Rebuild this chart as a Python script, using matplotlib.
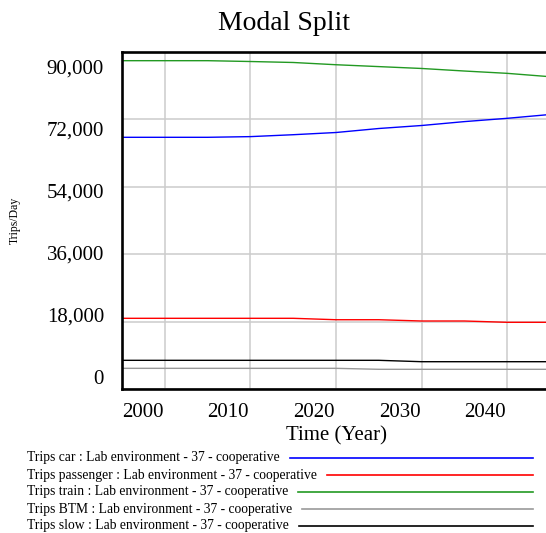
import numpy as np
import matplotlib.pyplot as plt
from matplotlib.lines import Line2D

plt.rcParams['font.family'] = ['Liberation Serif', 'DejaVu Serif']

# model output, trips per day
years = [2000, 2005, 2010, 2015, 2020, 2025, 2030, 2035, 2040, 2045, 2050]
trips_car = [67220, 67220, 67220, 67400, 67910, 68500, 69570, 70370, 71410, 72290, 73310]
trips_passenger = [18880, 18880, 18880, 18880, 18880, 18500, 18500, 18160, 18160, 17810, 17810]
trips_train = [87680, 87680, 87680, 87460, 87200, 86600, 86100, 85600, 84920, 84300, 83400]
trips_btm = [5520, 5520, 5520, 5520, 5520, 5520, 5260, 5260, 5260, 5260, 5260]
trips_slow = [7660, 7660, 7660, 7660, 7660, 7660, 7660, 7290, 7290, 7290, 7290]

names = ['Trips car', 'Trips passenger', 'Trips train', 'Trips BTM', 'Trips slow']
run = 'Lab environment - 37 - cooperative'
colors = ['#0000ff', '#ff0000', '#229922', '#999999', '#000000']

y_ticks = [0, 18000, 36000, 54000, 72000, 90000]
x_ticks = [2000, 2010, 2020, 2030, 2040]

W, H = 546, 533
fig = plt.figure(figsize=(W / 100, H / 100), dpi=100)
ax = fig.add_axes([122 / W, 144 / H, 428 / W, 337 / H])

data = [trips_car, trips_passenger, trips_train, trips_btm, trips_slow]
for vals, col in zip(data, colors):
    ax.plot(years, vals, color=col, lw=1.0)

ax.set_xlim(2000, 2050)
ax.set_ylim(0, 90000)

# grid every 5 years / 18,000 trips
ax.set_xticks(np.arange(2000, 2051, 5), minor=True)
ax.set_yticks(y_ticks, minor=True)
ax.grid(which='minor', color='#cccccc', lw=1.1)
ax.tick_params(which='both', length=0, labelsize=15)

# labels sit inside the range like the simulator draws them
ax.set_xticks(x_ticks, [str(x) for x in x_ticks], ha='left')
ax.set_yticks([3200 + 0.92 * v for v in y_ticks], [f'{v:,}' for v in y_ticks])
ax.tick_params(axis='x', pad=10)
ax.tick_params(axis='y', pad=13)

for side in ['left', 'top', 'bottom']:
    ax.spines[side].set_linewidth(1.9)
ax.spines['right'].set_visible(False)

fig.text(284 / W, 1 - 23 / H, 'Modal Split', fontsize=20, ha='center', va='center')
fig.text(336 / W, 1 - 436 / H, 'Time (Year)', fontsize=15, ha='center', va='center')
fig.text(15 / W, 1 - 220 / H, 'Trips/Day', fontsize=8.5, rotation=90,
         ha='center', va='center')

# legend rows under the plot
texts = []
for i, name in enumerate(names):
    y = 1 - (458 + i * 17) / H
    texts.append(fig.text(27 / W, y, f'{name} : {run}', fontsize=9.8, va='center'))

fig.canvas.draw()
r = fig.canvas.get_renderer()
for t, col in zip(texts, colors):
    bb = t.get_window_extent(r)
    y = t.get_position()[1]
    fig.add_artist(Line2D([(bb.x1 + 10) / W, 533 / W], [y, y],
                          transform=fig.transFigure, color=col, lw=1.2))

fig.savefig('out.png', dpi=100)
